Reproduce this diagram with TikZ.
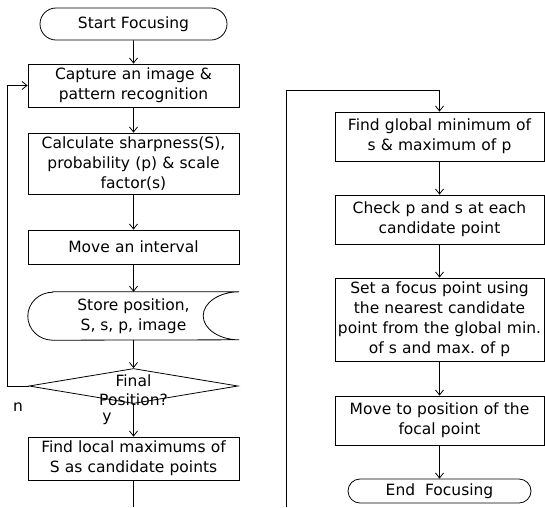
\documentclass[tikz,border=0pt]{standalone}
\usepackage{fontspec}
\setmainfont{DejaVu Sans}
\usetikzlibrary{shapes.geometric, shapes.misc, arrows.meta, positioning}

\begin{document}
\begin{tikzpicture}[
  x=1pt, y=1pt,
  pbox/.style={draw, line width=0.8pt, minimum width=211pt, text width=209pt, align=center, inner sep=1pt, font=\fontsize{15.5}{20}\selectfont},
  term/.style={draw, rounded rectangle, line width=0.8pt, inner sep=0pt, font=\fontsize{15.5}{20}\selectfont},
  decision/.style={draw, diamond, line width=0.8pt, minimum width=209pt, minimum height=35pt, inner sep=0pt},
  lbl/.style={inner sep=0pt, align=center, font=\fontsize{15.5}{20}\selectfont},
  arr/.style={line width=0.8pt, -{Straight Barb[length=5pt, width=8pt]}},
  link/.style={line width=0.8pt}
]
  \useasboundingbox (0,0) rectangle (545,-507);

  \node[term, minimum width=187pt, minimum height=32pt] (start) at (133.5,-24) {Start Focusing};
  \node[pbox, minimum height=43pt] (capture) at (133.5,-85.5) {Capture an image \&\\pattern recognition};
  \node[pbox, minimum height=61pt] (calc) at (133.5,-163.5) {Calculate sharpness(S),\\probability (p) \& scale\\factor(s)};
  \node[pbox, minimum height=34pt] (move) at (133.5,-247) {Move an interval};
  \node[lbl, minimum width=211pt, minimum height=48pt] (store) at (133.5,-316) {Store position,\\S, s, p, image};
  \draw[link] ([xshift=25pt]store.north west) -- (store.north east)
    arc[start angle=90, end angle=270, x radius=36pt, y radius=24pt]
    -- ([xshift=25pt]store.south west)
    arc[start angle=270, end angle=90, x radius=25pt, y radius=24pt] -- cycle;
  \node[decision] (final) at (133.5,-386) {};
  \node[lbl, font=\fontsize{15.5}{19}\selectfont] (finaltext) at (133.5,-390) {Final\\Position?};
  \node[lbl] (nlabel) at (18,-407) {n};
  \node[lbl] (ylabel) at (107,-419) {y};
  \node[pbox, minimum height=43pt] (local) at (133.5,-458.5) {Find local maximums of\\S as candidate points};

  \node[pbox, minimum width=209pt, text width=207pt, minimum height=49pt] (global) at (439.5,-136.5) {Find global minimum of\\s \& maximum of p};
  \node[pbox, minimum width=209pt, text width=207pt, minimum height=49pt] (check) at (439.5,-219.5) {Check p and s at each\\candidate point};
  \node[pbox, minimum width=209pt, text width=215pt, inner xsep=-3pt, minimum height=83pt] (setfocus) at (439.5,-319.5) {Set a focus point using\\the nearest candidate\\point from the global min.\\of s and max.\ of p};
  \node[pbox, minimum width=209pt, text width=207pt, minimum height=49pt] (moveto) at (439.5,-420.5) {Move to position of the\\focal point};
  \node[term, minimum width=183pt, minimum height=24pt] (stop) at (439.5,-491) {End\ \ Focusing};

  \coordinate (loopl) at (7,-386);
  \coordinate (wrapout) at (133.5,-507);
  \coordinate (wrapin) at (286,-507);
  \coordinate (wraptop) at (286,-90);

  \draw[arr] (start) -- (capture);
  \draw[arr] (capture) -- (calc);
  \draw[arr] (calc) -- (move);
  \draw[arr] (move) -- (store);
  \draw[arr] (store) -- (final);
  \draw[arr] (final) -- (local);
  \draw[arr] (final.west) -- (loopl) |- (capture.west);
  \draw[link] (local) -- (wrapout);
  \draw[arr] (wrapin) -- (wraptop) -| (global);
  \draw[arr] (global) -- (check);
  \draw[arr] (check) -- (setfocus);
  \draw[arr] (setfocus) -- (moveto);
  \draw[arr] (moveto) -- (stop);
\end{tikzpicture}
\end{document}
